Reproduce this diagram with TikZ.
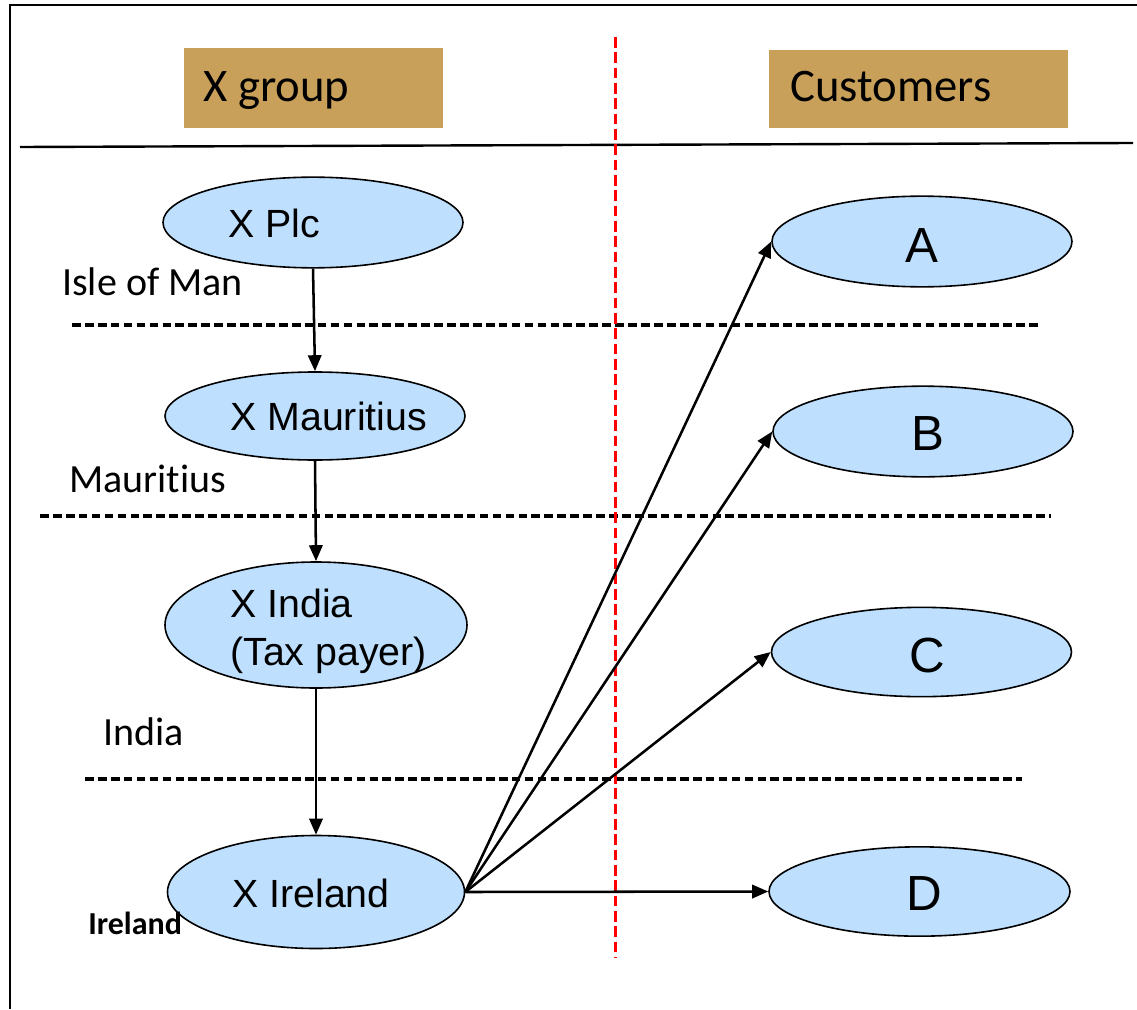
\documentclass[tikz,border=0pt]{standalone}
\usepackage{fontspec}
\setmainfont{Liberation Sans}
\newfontfamily\carlito[Ligatures={NoCommon,NoContextual}]{Carlito}
\usetikzlibrary{shapes.geometric,arrows.meta}
\definecolor{nodeblue}{RGB}{190,224,254}
\definecolor{headtan}{RGB}{200,160,90}
\begin{document}
\begin{tikzpicture}[x=0.75pt,y=-0.75pt,
  ent/.style={ellipse,draw=black,line width=1.2pt,fill=nodeblue,inner sep=0pt},
  etext/.style={font=\fontsize{29.5}{34}\selectfont,inner sep=0pt},
  ltext/.style={font=\fontsize{37}{42}\selectfont,inner sep=0pt},
  region/.style={font=\carlito\fontsize{30}{34}\selectfont,inner sep=0pt,anchor=base west},
  headtext/.style={font=\carlito\fontsize{35}{40}\selectfont,inner sep=0pt,anchor=base west},
  sep/.style={line width=2.4pt,dash pattern=on 6.5pt off 3.2pt},
  conn/.style={line width=1.9pt,-{Triangle[length=12pt,width=10pt]}}]
\useasboundingbox (0,0) rectangle (1137,1009);
% frame
\draw[line width=1.8pt] (1137,5) -- (10,5) -- (10,1009);
% headers
\fill[headtan] (184,48) rectangle (443,128);
\node[headtext] (hx) at (203,102) {X group};
\fill[headtan] (769,50) rectangle (1068,128);
\node[headtext] (hc) at (790,102) {Customers};
\draw[line width=1.8pt] (20,147) -- (1133,143);
% separators
\draw[sep] (72,325) -- (1039,325);
\draw[sep] (40,516) -- (1051,516);
\draw[sep] (85,779) -- (1022,779);
% ellipses
\node[ent,minimum width=225pt,minimum height=68pt] (plc) at (313,222.5) {};
\node[ent,minimum width=225pt,minimum height=66pt] (maur) at (315,416) {};
\node[ent,minimum width=226.5pt,minimum height=94.5pt] (india) at (316,625) {};
\node[ent,minimum width=222.75pt,minimum height=84.75pt] (irl) at (316,892) {};
\node[ent,minimum width=225pt,minimum height=68pt] (A) at (922,241.5) {};
\node[ent,minimum width=225pt,minimum height=68pt] (B) at (923,431.5) {};
\node[ent,minimum width=225pt,minimum height=67pt] (C) at (921.5,652) {};
\node[ent,minimum width=225.75pt,minimum height=67pt] (D) at (919.5,891.5) {};
% texts in ellipses
\node[etext,anchor=base west] (tplc) at (228,238) {X Plc};
\node[etext,anchor=base west] (tmaur) at (230,430) {X Mauritius};
\node[etext,anchor=base west] (tind1) at (230,617) {X India};
\node[etext,anchor=base west] (tind2) at (230,665) {(Tax payer)};
\node[etext,anchor=base west] (tirl) at (232,907) {X Ireland};
\node[ltext,anchor=base] (tA) at (922,262) {A};
\node[ltext,anchor=base] (tB) at (928,450) {B};
\node[ltext,anchor=base] (tC) at (927,672) {C};
\node[ltext,anchor=base] (tD) at (924,910) {D};
% region labels
\node[region] (lim) at (62,295) {Isle of Man};
\node[region] (lma) at (69,492) {Mauritius};
\node[region] (lin) at (103,745) {India};
\node[region,font=\carlito\bfseries\fontsize{24}{28}\selectfont] (lir) at (88,934) {Ireland};
% red divider
\draw[red,line width=2.4pt,dash pattern=on 8pt off 3.5pt] (615.5,37) -- (615.5,958);
% connectors
\draw[conn] (plc.south) -- (maur.north);
\draw[conn] (maur.south) -- (india.north);
\draw[conn] (india.south) -- (irl.north);
\draw[conn] (irl.east) -- (A.west);
\draw[conn] (irl.east) -- (B.west);
\draw[conn] (irl.east) -- (C.west);
\draw[conn] (irl.east) -- (D.west);
\end{tikzpicture}
\end{document}
